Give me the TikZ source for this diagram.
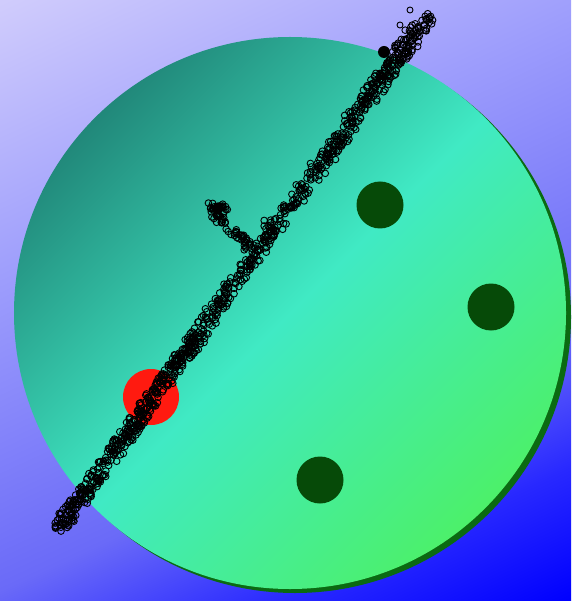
\documentclass[tikz,border=0pt]{standalone}
\usetikzlibrary{calc}
\definecolor{bgA}{HTML}{D0CCFC}
\definecolor{bgC}{HTML}{9E9EFC}
\definecolor{bgD}{HTML}{6A6AF8}
\definecolor{bgE}{HTML}{2828FF}
\definecolor{bgB}{HTML}{0000FF}
\definecolor{ciA}{HTML}{21887A}
\definecolor{ciM}{HTML}{40EAC4}
\definecolor{ciB}{HTML}{4CF06A}
\definecolor{shad}{HTML}{0B6A12}
\definecolor{dotg}{HTML}{064A08}
\definecolor{redc}{HTML}{FF1A10}
\pgfdeclareverticalshading{bgsh}{100bp}{color(0bp)=(bgB); color(17bp)=(bgB); color(27bp)=(bgE); color(38bp)=(bgD); color(62bp)=(bgC); color(83bp)=(bgA); color(100bp)=(bgA)}
\tikzset{
  mk/.style={draw=black, line width=0.9pt, fill=none},
  bigdot/.style={circle, fill=dotg, minimum size=47pt, inner sep=0pt},
  reddot/.style={circle, fill=redc, minimum size=56pt, inner sep=0pt}
}
\begin{document}
\begin{tikzpicture}[x=1pt,y=-1pt]
\useasboundingbox (0,0) rectangle (571,601);
\shade[shading=bgsh, shading angle=25] (0,0) rectangle (571,601);
% disc with shadow
\coordinate (c) at (290,313);
\fill[shad] ($(c)+(5,4)$) circle [radius=276pt];
\shade[top color=ciA, bottom color=ciB, middle color=ciM, shading angle=45] (c) circle [radius=276pt];
% spots
\node[bigdot] (g1) at (380,205) {};
\node[bigdot] (g2) at (491,307) {};
\node[bigdot] (g3) at (320,480) {};
\node[reddot] (r1) at (151,397) {};
% markers along the line
\pgfmathsetseed{4711}
\foreach \i in {1,...,750}{
  \pgfmathsetmacro\t{rnd}
  \pgfmathsetmacro\p{rand*6+rand*4}
  \pgfmathsetmacro\q{rand*4}
  \pgfmathsetmacro\px{58+\t*370+\p*0.813+\q*0.582}
  \pgfmathsetmacro\py{530-\t*515+\p*0.582-\q*0.813}
  \draw[mk] (\px,\py) circle [radius=3.3pt];
}
% extra density near red spot and top
\foreach \i in {1,...,110}{
  \pgfmathsetmacro\t{0.15+rnd*0.22}
  \pgfmathsetmacro\p{rand*8}
  \pgfmathsetmacro\px{58+\t*370+\p*0.813}
  \pgfmathsetmacro\py{530-\t*515+\p*0.582}
  \draw[mk] (\px,\py) circle [radius=3.3pt];
}
\foreach \i in {1,...,50}{
  \pgfmathsetmacro\t{0.84+rnd*0.13}
  \pgfmathsetmacro\p{rand*10}
  \pgfmathsetmacro\px{58+\t*370+\p*0.813}
  \pgfmathsetmacro\py{530-\t*515+\p*0.582}
  \draw[mk] (\px,\py) circle [radius=3.3pt];
}
\foreach \i in {1,...,50}{
  \pgfmathsetmacro\t{rnd*0.08}
  \pgfmathsetmacro\p{rand*8}
  \pgfmathsetmacro\px{58+\t*370+\p*0.813}
  \pgfmathsetmacro\py{530-\t*515+\p*0.582}
  \draw[mk] (\px,\py) circle [radius=3.3pt];
}
% loose points at the top end
\draw[mk] (410,10) circle [radius=3pt];
\draw[mk] (425,16) circle [radius=3pt];
\draw[mk] (400,25) circle [radius=3pt];
\fill[black] (384,52) circle [radius=6pt];
% small branch
\foreach \i in {1,...,55}{
  \pgfmathsetmacro\s{rnd}
  \pgfmathsetmacro\px{250-\s*38+rand*4}
  \pgfmathsetmacro\py{248-\s*38+rand*4}
  \draw[mk] (\px,\py) circle [radius=3.3pt];
}
\foreach \i in {1,...,30}{
  \pgfmathsetmacro\px{218+rand*10}
  \pgfmathsetmacro\py{208+rand*4+rand*3}
  \draw[mk] (\px,\py) circle [radius=3.3pt];
}
\foreach \i in {1,...,10}{
  \pgfmathsetmacro\px{268+rand*4}
  \pgfmathsetmacro\py{226+rand*7}
  \draw[mk] (\px,\py) circle [radius=3.3pt];
}
\end{tikzpicture}
\end{document}
